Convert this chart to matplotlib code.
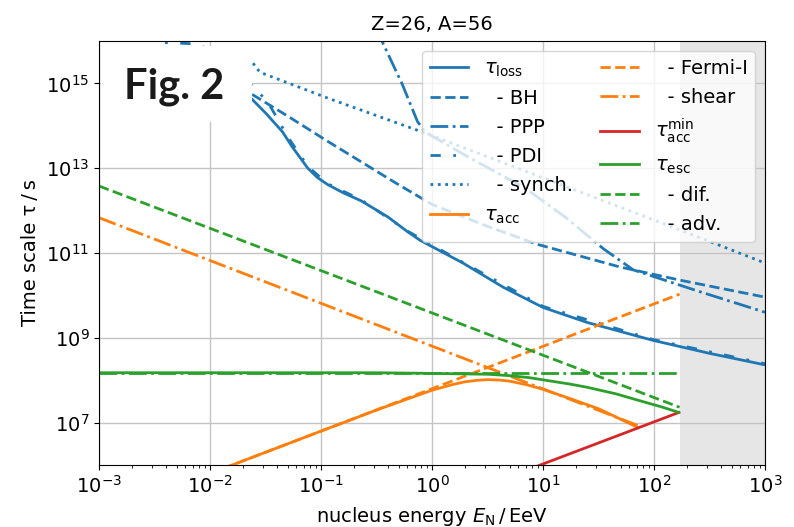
import matplotlib
matplotlib.use("Agg")
import matplotlib.pyplot as plt
from matplotlib.patches import Rectangle
from matplotlib.ticker import NullLocator

# energies in EeV, time scales in s
loss_E = [0.024, 0.032, 0.045, 0.055, 0.076, 0.093, 0.115, 0.16, 0.23, 0.40,
          0.60, 0.78, 1.9, 4.4, 10, 25, 98, 316, 1000]
loss_tau = [4.2e14, 1.95e14, 7.2e13, 3.2e13, 1.0e13, 6.0e12, 4.1e12, 2.6e12,
            1.7e12, 7.1e11, 3.2e11, 2.0e11, 5.8e10, 1.55e10, 5.2e9, 2.3e9,
            8.7e8, 4.3e8, 2.3e8]

bh_E = [0.024, 0.05, 0.115, 0.47, 1.0, 3.2, 8.9, 49, 170, 1000]
bh_tau = [5.5e14, 1.7e14, 4.3e13, 4.5e12, 1.4e12, 4.2e11, 1.6e11, 4.7e10,
          2.3e10, 9.1e9]

ppp_E = [0.316, 0.355, 0.54, 0.74, 0.87, 2.0, 6.8, 15.8, 35, 65, 250, 1000]
ppp_tau = [2.0e16, 9.8e15, 9.5e14, 1.26e14, 7.1e13, 2.0e13, 3.5e12, 7.1e11,
           1.26e11, 4.0e10, 1.26e10, 4.0e9]

pdi_E = [0.0025, 0.0035, 0.0079, 0.0158, 0.025, 0.033, 0.041, 0.050, 0.076,
         0.115, 0.23, 0.60, 1.9, 10, 98, 1000]
pdi_tau = [1.26e16, 9.3e15, 8.5e15, 2.5e15, 7.9e14, 3.7e14, 1.4e14, 5.6e13,
           1.1e13, 4.3e12, 1.8e12, 3.3e11, 6.0e10, 5.5e9, 9.1e8, 2.45e8]

syn_E = [0.0245, 0.0263, 0.0295, 0.115, 0.81, 7.6, 200, 1000]
syn_tau = [3.0e15, 2.2e15, 1.75e15, 4.5e14, 7.2e13, 7.8e12, 3.0e11, 5.8e10]

acc_E = [0.001, 0.1, 0.32, 1.0, 1.5, 2.0, 2.6, 3.2, 4.0, 5.0, 7.0, 10, 18,
         32, 72]
acc_tau = [6.3e4, 6.3e6, 2.0e7, 5.8e7, 7.8e7, 9.2e7, 1.0e8, 1.03e8, 1.01e8,
           9.5e7, 7.9e7, 6.1e7, 3.6e7, 2.1e7, 7.6e6]

fermi_E = [0.001, 170]
fermi_tau = [6.3e4, 1.07e10]

shear_E = [0.001, 72]
shear_tau = [6.8e11, 8.5e6]

accmin_E = [8.5, 168]
accmin_tau = [9.0e5, 1.74e7]

esc_E = [0.001, 0.3, 0.78, 3.2, 5.0, 7.5, 10, 18, 25, 45, 71, 120, 166]
esc_tau = [1.5e8, 1.5e8, 1.46e8, 1.38e8, 1.28e8, 1.15e8, 1.02e8, 8.0e7,
           6.8e7, 4.8e7, 3.4e7, 2.3e7, 1.75e7]

dif_E = [0.001, 170]
dif_tau = [3.8e12, 2.3e7]

adv_E = [0.001, 170]
adv_tau = [1.5e8, 1.5e8]

E_max = 170

blue, orange, red, green = "#1f77b4", "#ff7f0e", "#d62728", "#2ca02c"
lw = 2.0

fig = plt.figure(figsize=(7.94, 5.27), dpi=100)
ax = fig.add_axes([99 / 794, 62 / 527, 666 / 794, 424 / 527])

ax.plot(loss_E, loss_tau, color=blue, lw=lw, label=r"$\tau_\mathrm{loss}$")
ax.plot(bh_E, bh_tau, color=blue, lw=lw, ls="--", label="  - BH")
ax.plot(ppp_E, ppp_tau, color=blue, lw=lw, ls="-.", label="  - PPP")
ax.plot(pdi_E, pdi_tau, color=blue, lw=lw, ls=(0, (3.7, 4.5, 1, 4.5)),
        label="  - PDI")
ax.plot(syn_E, syn_tau, color=blue, lw=lw, ls=":", label="  - synch.")
ax.plot(acc_E, acc_tau, color=orange, lw=lw, label=r"$\tau_\mathrm{acc}$")
ax.plot(fermi_E, fermi_tau, color=orange, lw=lw, ls="--", label="  - Fermi-I")
ax.plot(shear_E, shear_tau, color=orange, lw=lw, ls="-.", label="  - shear")
ax.plot(accmin_E, accmin_tau, color=red, lw=lw,
        label=r"$\tau_\mathrm{acc}^\mathrm{min}$")
ax.plot(esc_E, esc_tau, color=green, lw=lw, label=r"$\tau_\mathrm{esc}$")
ax.plot(dif_E, dif_tau, color=green, lw=lw, ls="--", label="  - dif.")
ax.plot(adv_E, adv_tau, color=green, lw=lw, ls="-.", label="  - adv.")

ax.axvspan(E_max, 1e3, color="#dcdcdc", alpha=0.7, lw=0, zorder=0.4)

ax.set_xscale("log")
ax.set_yscale("log")
ax.set_xlim(1e-3, 1e3)
ax.set_ylim(1e6, 1e16)
ax.set_yticks([1e7, 1e9, 1e11, 1e13, 1e15])
ax.yaxis.set_minor_locator(NullLocator())
ax.grid(True, which="major", color="#c4c4c4", lw=1.0)
ax.tick_params(labelsize=14)

ax.set_title("Z=26, A=56", fontsize=14, pad=8)
ax.set_xlabel(r"nucleus energy $E_\mathrm{N}\,/\,\mathrm{EeV}$", fontsize=14,
              labelpad=6)
ax.set_ylabel("Time scale τ\u2009/\u2009s", fontsize=14)

ax.legend(loc="upper right", ncol=2, fontsize=14, borderaxespad=0.5,
          labelspacing=0.52, columnspacing=1.4)

# white label box over the top-left corner
fig.patches.append(Rectangle((101 / 794, 1 - 122 / 527), 151 / 794, 76 / 527,
                             transform=fig.transFigure, facecolor="white",
                             edgecolor="none", zorder=3))
fig.text(124 / 794, 1 - 98 / 527, "Fig. 2", fontsize=30, fontweight="bold",
         family=["Lato", "DejaVu Sans"], color="#1a1a1a", va="baseline",
         zorder=4)

fig.savefig("out.png", dpi=100)
